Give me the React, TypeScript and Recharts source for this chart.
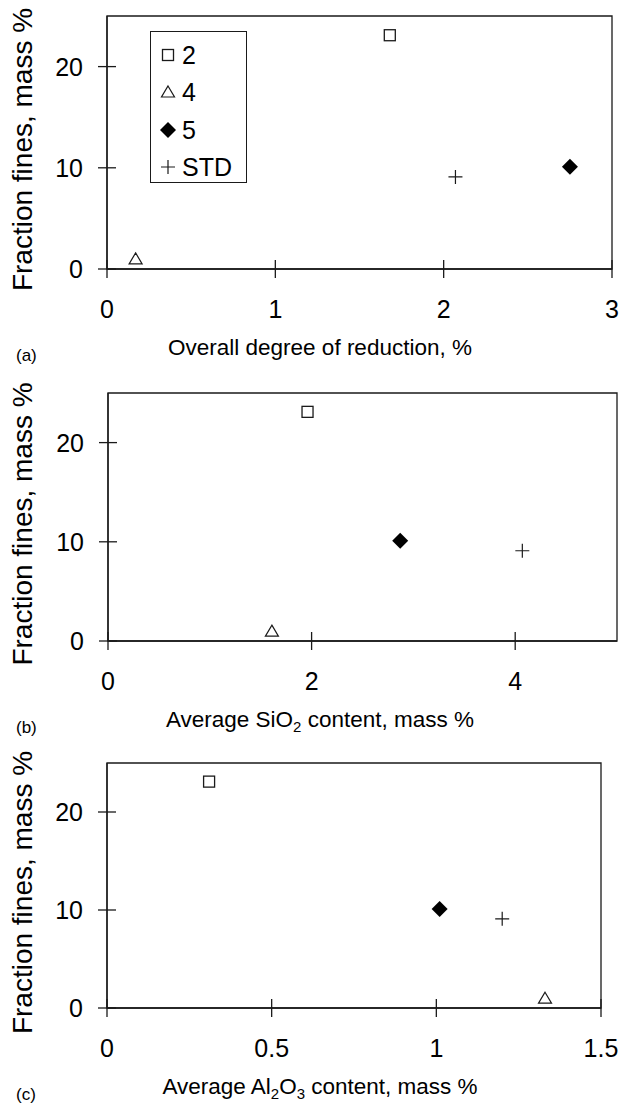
import React from "react";
import {
  ScatterChart,
  Scatter,
  XAxis,
  YAxis,
  ReferenceArea,
  Legend,
} from "recharts";

// sample names (legend) and measured fraction of fines, mass %
const samples = ["2", "4", "5", "STD"];
const fractionFines = [23.1, 1.0, 10.1, 9.1];

// x values per panel, same order as samples
const reductionDegree = [1.68, 0.17, 2.75, 2.07];
const sio2Content = [1.96, 1.61, 2.87, 4.07];
const al2o3Content = [0.31, 1.33, 1.01, 1.2];

const reductionTicks = [0, 1, 2, 3];
const sio2Ticks = [0, 2, 4];
const al2o3Ticks = [0, 0.5, 1, 1.5];
const finesTicks = [0, 10, 20];

const FONT = "'Liberation Sans', Arial, sans-serif";
const INK = "#1a1a1a";

type Seg = { t: string; sub?: boolean };

function Marker({ kind, cx, cy }: { kind: number; cx: number; cy: number }) {
  if (kind === 0)
    return <rect x={cx - 5.5} y={cy - 5.5} width={11} height={11} fill="#fff" stroke={INK} strokeWidth={1.3} />;
  if (kind === 1)
    return (
      <path
        d={`M${cx},${cy - 6} L${cx + 6.5},${cy + 5} L${cx - 6.5},${cy + 5} Z`}
        fill="#fff"
        stroke={INK}
        strokeWidth={1.2}
      />
    );
  if (kind === 2)
    return <path d={`M${cx},${cy - 8} L${cx + 8},${cy} L${cx},${cy + 8} L${cx - 8},${cy} Z`} fill="#000" />;
  return (
    <path d={`M${cx - 7},${cy} L${cx + 7},${cy} M${cx},${cy - 7} L${cx},${cy + 7}`} stroke={INK} strokeWidth={1.2} />
  );
}

function XTick(props: any) {
  const { x, y, payload } = props;
  return (
    <g>
      <line x1={x} x2={x} y1={y - 9} y2={y + 9} stroke={INK} strokeWidth={1.3} />
      <text x={x} y={y + 40} dy="0.36em" textAnchor="middle" fontSize={25} fill="#000" fontFamily={FONT}>
        {payload.value}
      </text>
    </g>
  );
}

function YTick(props: any) {
  const { x, y, payload } = props;
  return (
    <g>
      <line x1={x - 9} x2={x + 9} y1={y} y2={y} stroke={INK} strokeWidth={1.3} />
      <text x={x - 24} y={y} dy="0.36em" textAnchor="end" fontSize={25} fill="#000" fontFamily={FONT}>
        {payload.value}
      </text>
    </g>
  );
}

function LegendBox() {
  return (
    <div
      style={{
        border: `1.3px solid ${INK}`,
        background: "#fff",
        width: 97,
        height: 152,
        boxSizing: "border-box",
        paddingTop: 4,
        fontFamily: FONT,
        fontSize: 25,
      }}
    >
      {samples.map((s, i) => (
        <div key={s} style={{ display: "flex", alignItems: "center", height: 37.5 }}>
          <svg width={28} height={20} style={{ marginLeft: 3 }}>
            <Marker kind={i} cx={14} cy={10} />
          </svg>
          <span style={{ lineHeight: "26px" }}>{s}</span>
        </div>
      ))}
    </div>
  );
}

type PanelProps = {
  top: number;
  height: number;
  plotTop: number;
  plotLeft: number;
  plotRight: number;
  plotBottom: number;
  xs: number[];
  xDomain: [number, number];
  xTicks: number[];
  title: Seg[];
  letter: string;
  legend?: boolean;
};

function Panel(p: PanelProps) {
  const xAxisHeight = p.height - (p.plotBottom - p.top);
  return (
    <div style={{ position: "absolute", left: 0, top: p.top }}>
      <ScatterChart
        width={622}
        height={p.height}
        margin={{ top: p.plotTop - p.top, right: 622 - p.plotRight, bottom: 0, left: 0 }}
      >
        <XAxis
          type="number"
          dataKey="x"
          domain={p.xDomain}
          ticks={p.xTicks}
          allowDataOverflow
          height={xAxisHeight}
          tickSize={0}
          tickMargin={0}
          tickLine={false}
          axisLine={{ stroke: INK, strokeWidth: 1.3 }}
          tick={<XTick />}
          label={{
            content: (lp: any) => {
              const vb = lp.viewBox;
              return (
                <g fontFamily={FONT} fill="#000">
                  <text x={16} y={vb.y + 86} dy="0.36em" fontSize={17}>
                    {p.letter}
                  </text>
                  <text x={320} y={vb.y + 86} dy="0.36em" textAnchor="middle" fontSize={22.5}>
                    {p.title.map((s, i) =>
                      s.sub ? (
                        <tspan key={i} fontSize={15} dy={5}>
                          {s.t}
                        </tspan>
                      ) : (
                        <tspan key={i} dy={i > 0 && p.title[i - 1].sub ? -5 : 0}>
                          {s.t}
                        </tspan>
                      )
                    )}
                  </text>
                </g>
              );
            },
          }}
        />
        <YAxis
          type="number"
          dataKey="y"
          domain={[0, 25]}
          ticks={finesTicks}
          allowDataOverflow
          width={p.plotLeft}
          tickSize={0}
          tickMargin={0}
          tickLine={false}
          axisLine={{ stroke: INK, strokeWidth: 1.3 }}
          tick={<YTick />}
          label={{
            content: (lp: any) => {
              const vb = lp.viewBox;
              const cy = vb.y + vb.height / 2 + 7;
              return (
                <text
                  x={22}
                  y={cy}
                  dy="0.36em"
                  transform={`rotate(-90, 22, ${cy})`}
                  textAnchor="middle"
                  fontSize={28}
                  fontFamily={FONT}
                  fill="#000"
                >
                  Fraction fines, mass %
                </text>
              );
            },
          }}
        />
        <ReferenceArea
          x1={p.xDomain[0]}
          x2={p.xDomain[1]}
          y1={0}
          y2={25}
          fill="none"
          stroke={INK}
          strokeWidth={1.3}
          ifOverflow="visible"
        />
        {samples.map((s, i) => (
          <Scatter
            key={s}
            name={s}
            data={[{ x: p.xs[i], y: fractionFines[i] }]}
            isAnimationActive={false}
            shape={(sp: any) => <Marker kind={i} cx={sp.cx} cy={sp.cy} />}
          />
        ))}
        {p.legend && (
          <Legend
            layout="horizontal"
            verticalAlign="middle"
            align="center"
            content={() => <LegendBox />}
            wrapperStyle={{ left: 150, top: 31, width: 97, height: 152 }}
          />
        )}
      </ScatterChart>
    </div>
  );
}

export default function App() {
  return (
    <div style={{ position: "absolute", left: 0, top: 0, width: 622, height: 1108, background: "#fff" }}>
      <Panel
        top={0}
        height={370}
        plotTop={16}
        plotLeft={107}
        plotRight={612}
        plotBottom={269}
        xs={reductionDegree}
        xDomain={[0, 3]}
        xTicks={reductionTicks}
        title={[{ t: "Overall degree of reduction, %" }]}
        letter="(a)"
        legend
      />
      <Panel
        top={370}
        height={370}
        plotTop={393}
        plotLeft={108}
        plotRight={617}
        plotBottom={641}
        xs={sio2Content}
        xDomain={[0, 5]}
        xTicks={sio2Ticks}
        title={[{ t: "Average SiO" }, { t: "2", sub: true }, { t: " content, mass %" }]}
        letter="(b)"
      />
      <Panel
        top={740}
        height={368}
        plotTop={763}
        plotLeft={107}
        plotRight={601}
        plotBottom={1008}
        xs={al2o3Content}
        xDomain={[0, 1.5]}
        xTicks={al2o3Ticks}
        title={[{ t: "Average Al" }, { t: "2", sub: true }, { t: "O" }, { t: "3", sub: true }, { t: " content, mass %" }]}
        letter="(c)"
      />
    </div>
  );
}
